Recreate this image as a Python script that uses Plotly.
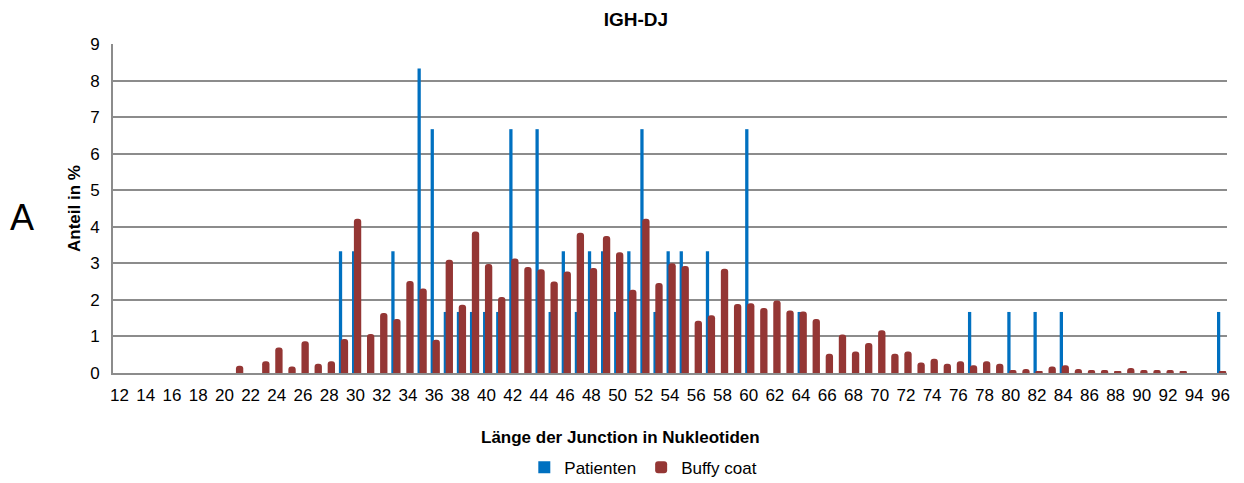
import plotly.graph_objects as go

lengths = list(range(12, 97))

patienten = {
    29: 3.33, 30: 3.33, 33: 3.33, 35: 8.33, 36: 6.67, 37: 1.67, 38: 1.67, 39: 1.67,
    40: 1.67, 41: 1.67, 42: 6.67, 44: 6.67, 45: 1.67, 46: 3.33, 47: 1.67, 48: 3.33,
    49: 3.33, 50: 1.67, 51: 3.33, 52: 6.67, 53: 1.67, 54: 3.33, 55: 3.33, 57: 3.33,
    60: 6.67, 64: 1.67, 77: 1.67, 80: 1.67, 82: 1.67, 84: 1.67, 96: 1.67,
}
buffy_coat = {
    21: 0.20, 23: 0.32, 24: 0.70, 25: 0.18, 26: 0.87, 27: 0.25, 28: 0.32, 29: 0.93,
    30: 4.22, 31: 1.07, 32: 1.64, 33: 1.48, 34: 2.52, 35: 2.31, 36: 0.91, 37: 3.10,
    38: 1.87, 39: 3.87, 40: 2.98, 41: 2.08, 42: 3.13, 43: 2.90, 44: 2.84, 45: 2.50,
    46: 2.78, 47: 3.84, 48: 2.87, 49: 3.75, 50: 3.30, 51: 2.28, 52: 4.22, 53: 2.46,
    54: 3.00, 55: 2.93, 56: 1.43, 57: 1.58, 58: 2.85, 59: 1.89, 60: 1.91, 61: 1.78,
    62: 1.98, 63: 1.71, 64: 1.68, 65: 1.48, 66: 0.53, 67: 1.05, 68: 0.59, 69: 0.82,
    70: 1.17, 71: 0.53, 72: 0.59, 73: 0.29, 74: 0.39, 75: 0.25, 76: 0.32, 77: 0.21,
    78: 0.32, 79: 0.25, 80: 0.08, 81: 0.11, 82: 0.05, 83: 0.18, 84: 0.21, 85: 0.11,
    86: 0.08, 87: 0.08, 88: 0.05, 89: 0.14, 90: 0.08, 91: 0.08, 92: 0.08, 93: 0.05,
    96: 0.05,
}
tick_labels = list(range(12, 97, 2))

pat_vals = [patienten.get(l, 0) for l in lengths]
buf_vals = [buffy_coat.get(l, 0) for l in lengths]

FONT = "Liberation Sans, Arial, sans-serif"
GRID = "#8c8c8c"

fig = go.Figure()
fig.add_trace(go.Bar(
    x=lengths, y=pat_vals, name="Patienten",
    width=0.25, offset=-0.265,
    marker=dict(color="#0070C0", line=dict(width=0)),
))
fig.add_trace(go.Bar(
    x=lengths, y=buf_vals, name="Buffy coat",
    width=0.56, offset=-0.12,
    marker=dict(color="#943634", line=dict(width=0), cornerradius=3),
))

# The page body adds an 8px offset; the figure is sized to fill the rest of the window.
fig.update_layout(
    width=1236, height=475,
    barmode="overlay",
    paper_bgcolor="white", plot_bgcolor="white",
    margin=dict(l=105, r=17, t=36, b=110, autoexpand=False),
    font=dict(family=FONT, size=17, color="black"),
    title=dict(text="<b>IGH-DJ</b>", x=0.508, xref="container", xanchor="center",
               y=0.977, yref="container", yanchor="middle", font=dict(size=19, family=FONT)),
    showlegend=True,
    legend=dict(orientation="h", x=0.514, xref="container", xanchor="center",
                y=0.032, yref="container", yanchor="middle",
                font=dict(size=17, family=FONT), itemwidth=30, traceorder="normal"),
    xaxis=dict(
        range=[11.5, 96.5], tickmode="array", tickvals=tick_labels,
        ticktext=[str(t) for t in tick_labels], automargin=False,
        showgrid=False, showline=True, linecolor=GRID, linewidth=2,
        ticks="", tickfont=dict(size=17, family=FONT), ticklabelstandoff=6,
    ),
    yaxis=dict(
        range=[0, 9], dtick=1, showgrid=True, gridcolor=GRID, gridwidth=2,
        showline=True, linecolor=GRID, linewidth=2, zeroline=False, automargin=False,
        ticks="", tickfont=dict(size=17, family=FONT), ticklabelstandoff=8,
        title=dict(text="<b>Anteil in %</b>", font=dict(size=17, family=FONT), standoff=5),
    ),
    annotations=[
        dict(text="<b>Länge der Junction in Nukleotiden</b>", xref="paper", yref="paper",
             x=0.456, y=-0.197, xanchor="center", yanchor="middle", showarrow=False,
             font=dict(size=17, family=FONT)),
        dict(text="A", xref="paper", yref="paper", x=-0.082, y=0.474,
             xanchor="center", yanchor="middle", showarrow=False,
             font=dict(size=36, family=FONT)),
    ],
)

fig.write_html("out.html")
